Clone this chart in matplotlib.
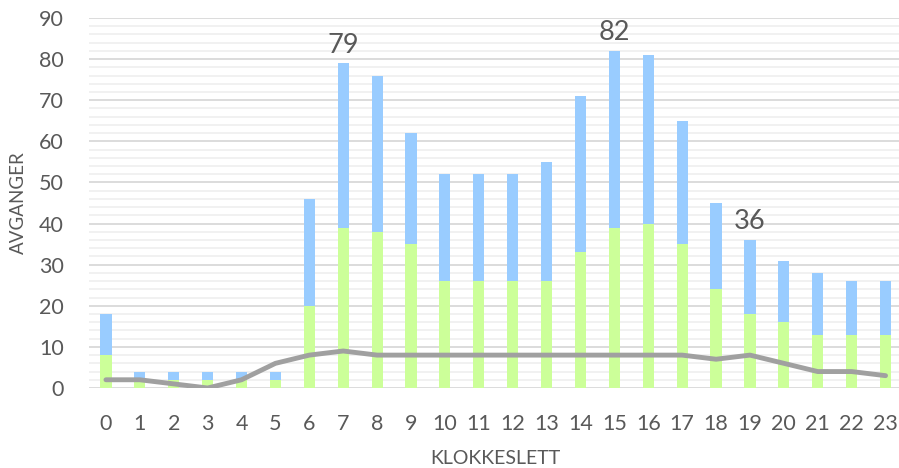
import matplotlib
matplotlib.use("Agg")
import matplotlib.pyplot as plt
import numpy as np

hours = [str(h) for h in range(24)]
green = [8, 2, 2, 2, 2, 2, 20, 39, 38, 35, 26, 26, 26, 26, 33, 39, 40, 35, 24, 18, 16, 13, 13, 13]
totals = [18, 4, 4, 4, 4, 4, 46, 79, 76, 62, 52, 52, 52, 55, 71, 82, 81, 65, 45, 36, 31, 28, 26, 26]
blue = [t - g for t, g in zip(totals, green)]
line = [2, 2, 1, 0, 2, 6, 8, 9, 8, 8, 8, 8, 8, 8, 8, 8, 8, 8, 7, 8, 6, 4, 4, 3]
labelled = [7, 15, 19]

plt.rcParams['font.family'] = ['Lato', 'DejaVu Sans']
TXT = '#595959'

fig = plt.figure(figsize=(8.99, 4.68), dpi=100)
ax = fig.add_axes([89/899, (468-388)/468, (902.5-89)/899, 370/468])

x = np.arange(len(hours))
w = 0.33
ax.bar(x, green, width=w, color='#CCFF99', zorder=3)
ax.bar(x, blue, bottom=green, width=w, color='#99CCFF', zorder=3)
ax.plot(x, line, color='#A0A0A0', lw=3.5, solid_capstyle='round', solid_joinstyle='round', zorder=4)

for i in labelled:
    ax.annotate(str(totals[i]), (x[i], totals[i]), xytext=(0, 4), textcoords='offset points',
                ha='center', va='bottom', fontsize=19.5, color=TXT)

ax.set_xlim(-0.5, 23.5)
ax.set_ylim(0, 90)
ax.set_yticks(np.arange(0, 91, 10))
ax.set_yticks(np.arange(0, 91, 2), minor=True)
ax.set_xticks(x)
ax.set_xticklabels(hours)
ax.grid(axis='y', which='major', color='#D9D9D9', lw=1.3, zorder=0)
ax.grid(axis='y', which='minor', color='#F0F0F0', lw=1.3, zorder=0)
ax.tick_params(axis='both', which='both', length=0, labelsize=15.5, colors=TXT)
ax.tick_params(axis='y', pad=18)
ax.tick_params(axis='x', pad=19)
for s in ax.spines.values():
    s.set_visible(False)
ax.set_ylabel('AVGANGER', fontsize=13.5, color=TXT, labelpad=9)
ax.set_xlabel('KLOKKESLETT', fontsize=14, color=TXT, labelpad=11)

fig.savefig('out.png', dpi=100)
